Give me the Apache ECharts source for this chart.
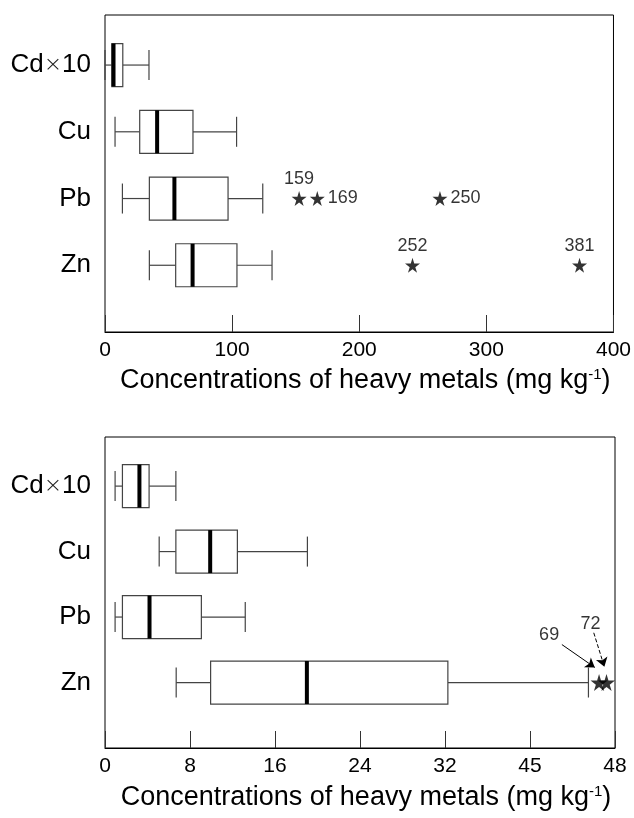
<!DOCTYPE html>
<html>
<head>
<meta charset="utf-8">
<script src="https://cdn.jsdelivr.net/npm/echarts@6/dist/echarts.min.js"></script>
<style>
html, body { margin: 0; padding: 0; background: #fff; }
#chart { width: 634px; height: 818px; }
</style>
</head>
<body>
<div id="chart"></div>
<script>
// rows, top to bottom
var categories = ['Cd×10', 'Cu', 'Pb', 'Zn'];

// upper panel (0-400 mg/kg)
var topMin    = [0, 7.9, 13.7, 34.9];
var topQ1     = [5.4, 27.3, 34.9, 55.6];
var topMedian = [6.7, 41, 54.6, 68.9];
var topQ3     = [14, 69.2, 96.8, 103.8];
var topMax    = [34.6, 103.5, 124.1, 131.4];
var topOutlierRows   = [2, 2, 2, 3, 3];
var topOutlierValues = [152.7, 167, 263.5, 241.9, 373.3];
var topOutlierLabels = ['159', '169', '250', '252', '381'];
var topTicks = ['0', '100', '200', '300', '400'];

// lower panel (0-48 mg/kg)
var bottomMin    = [0.95, 5.1, 0.95, 6.7];
var bottomQ1     = [1.64, 6.67, 1.64, 9.94];
var bottomMedian = [3.24, 9.9, 4.19, 19.0];
var bottomQ3     = [4.15, 12.46, 9.07, 32.27];
var bottomMax    = [6.67, 19.05, 13.2, 45.5];
var bottomOutlierRows   = [3, 3];
var bottomOutlierValues = [46.5, 47.2];
var bottomOutlierLabels = ['69', '72'];
var bottomTicks = ['0', '8', '16', '24', '32', '45', '48'];

var STAR = 'path://M50,0 L61,35 L98,35 L68,57 L79,91 L50,70 L21,91 L32,57 L2,35 L39,35 Z';
var FONT = 'Liberation Sans, Arial';

function boxData(mn, q1, md, q3, mx) {
    return categories.map(function (c, i) {
        return [i + 1, mn[i], q1[i], md[i], q3[i], mx[i]];
    });
}

function renderBox(params, api) {
    var y = api.value(0);
    var p = [1, 2, 3, 4, 5].map(function (k) { return api.coord([api.value(k), y]); });
    var cy = p[0][1];
    var bh = 43, ch = 30;
    var thin = { stroke: '#444', lineWidth: 1.2 };
    return {
        type: 'group',
        children: [
            { type: 'line', shape: { x1: p[0][0], y1: cy, x2: p[1][0], y2: cy }, style: thin },
            { type: 'line', shape: { x1: p[3][0], y1: cy, x2: p[4][0], y2: cy }, style: thin },
            { type: 'line', shape: { x1: p[0][0], y1: cy - ch / 2, x2: p[0][0], y2: cy + ch / 2 }, style: thin },
            { type: 'line', shape: { x1: p[4][0], y1: cy - ch / 2, x2: p[4][0], y2: cy + ch / 2 }, style: thin },
            { type: 'rect', shape: { x: p[1][0], y: cy - bh / 2, width: p[3][0] - p[1][0], height: bh },
              style: { fill: '#fff', stroke: '#444', lineWidth: 1.2 } },
            { type: 'line', shape: { x1: p[2][0], y1: cy - bh / 2, x2: p[2][0], y2: cy + bh / 2 },
              style: { stroke: '#000', lineWidth: 4 } }
        ]
    };
}

function yAxisFor(gi) {
    return {
        type: 'value', gridIndex: gi, inverse: true, min: 0.25, max: 5, interval: 0.25,
        axisLine: { show: false }, axisTick: { show: false }, splitLine: { show: false },
        axisLabel: {
            margin: 14, color: '#000', fontSize: 26, fontFamily: FONT,
            formatter: function (v) {
                if (Math.abs(v - Math.round(v)) > 1e-6 || v < 1 || v > 4) return '';
                var c = categories[Math.round(v) - 1];
                if (c.indexOf('×') >= 0) {
                    var parts = c.split('×');
                    return '{n|' + parts[0] + '}{x|×}{n|' + parts[1] + '}';
                }
                return '{n|' + c + '}';
            },
            rich: {
                n: { fontSize: 26, color: '#000', fontFamily: FONT },
                x: { fontSize: 22, color: '#222', fontFamily: 'DejaVu Sans', fontWeight: 'lighter' }
            }
        }
    };
}

var axisName = '{a|Concentrations of heavy metals (mg kg}{s|-1}{a|)}';
var nameStyle = {
    color: '#000',
    padding: [0, 0, 0, 12],
    rich: {
        a: { fontSize: 27, color: '#000', fontFamily: FONT },
        s: { fontSize: 15, color: '#000', fontFamily: FONT, verticalAlign: 'top', padding: [0, 0, 13, 0] }
    }
};

function xAxisFor(gi, max, interval, ticks, gap) {
    return {
        type: 'value', gridIndex: gi, min: 0, max: max, interval: interval,
        name: axisName, nameLocation: 'middle', nameGap: gap, nameTextStyle: nameStyle,
        axisLine: { show: true, lineStyle: { color: '#000', width: 1 } },
        axisTick: { show: true, inside: true, length: 17, lineStyle: { color: '#333', width: 1 } },
        splitLine: { show: false },
        axisLabel: {
            margin: 8, color: '#000', fontSize: 21, fontFamily: FONT,
            formatter: function (v) { return ticks[Math.round(v / interval)]; }
        }
    };
}

var chart = echarts.init(document.getElementById('chart'));

var topLabelSide = { '169': 'right', '250': 'right' };

var option = {
    animation: false,
    backgroundColor: '#fff',
    grid: [
        { left: 105, right: 19, top: 15, bottom: 486, show: true, borderColor: '#000', borderWidth: 1, backgroundColor: 'transparent' },
        { left: 105, right: 19, top: 437, bottom: 70, show: true, borderColor: '#000', borderWidth: 1, backgroundColor: 'transparent' }
    ],
    xAxis: [xAxisFor(0, 400, 100, topTicks, 35), xAxisFor(1, 48, 8, bottomTicks, 36)],
    yAxis: [yAxisFor(0), yAxisFor(1)],
    series: [
        {
            type: 'custom', xAxisIndex: 0, yAxisIndex: 0,
            renderItem: renderBox,
            encode: { x: [1, 2, 3, 4, 5], y: 0 },
            data: boxData(topMin, topQ1, topMedian, topQ3, topMax)
        },
        {
            type: 'scatter', xAxisIndex: 0, yAxisIndex: 0,
            symbol: STAR, symbolSize: 15,
            itemStyle: { color: '#000' },
            data: topOutlierValues.map(function (v, i) {
                return {
                    value: [v, topOutlierRows[i] + 1],
                    label: {
                        show: true, formatter: topOutlierLabels[i],
                        position: topLabelSide[topOutlierLabels[i]] || 'top',
                        distance: 3, color: '#000', fontSize: 18, fontFamily: FONT
                    }
                };
            })
        },
        {
            type: 'custom', xAxisIndex: 1, yAxisIndex: 1,
            renderItem: renderBox,
            encode: { x: [1, 2, 3, 4, 5], y: 0 },
            data: boxData(bottomMin, bottomQ1, bottomMedian, bottomQ3, bottomMax)
        },
        {
            type: 'scatter', xAxisIndex: 1, yAxisIndex: 1,
            symbol: STAR, symbolSize: 17,
            itemStyle: { color: '#000' },
            data: bottomOutlierValues.map(function (v, i) {
                return [v, bottomOutlierRows[i] + 1];
            })
        },
        {
            // labels and arrows for the two crowded outliers
            type: 'scatter', xAxisIndex: 1, yAxisIndex: 1,
            symbolSize: 0, silent: true,
            label: { show: true, position: 'inside', color: '#000', fontSize: 18, fontFamily: FONT,
                     formatter: function (p) { return p.data[2]; } },
            data: [[41.8, 3.27, bottomOutlierLabels[0]], [45.7, 3.11, bottomOutlierLabels[1]]],
            markLine: {
                silent: true, symbol: ['none', 'arrow'], symbolSize: 9,
                label: { show: false },
                data: [
                    [{ coord: [43.0, 3.42], lineStyle: { color: '#000', width: 1, type: 'solid' } }, { coord: [46.1, 3.77] }],
                    [{ coord: [46.0, 3.24], lineStyle: { color: '#000', width: 1, type: 'dashed' } }, { coord: [47.0, 3.76] }]
                ]
            }
        }
    ]
};

chart.setOption(option);
window.onresize = chart.resize;
</script>
</body>
</html>
